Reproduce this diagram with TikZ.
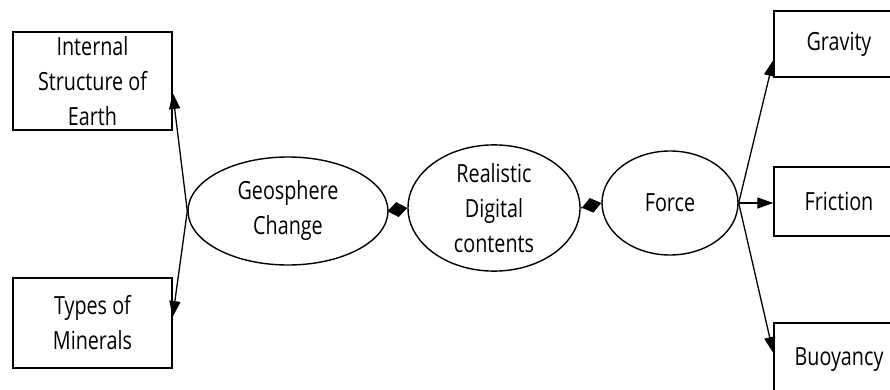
\documentclass[tikz,border=0pt]{standalone}
\usepackage{fontspec}
\setmainfont[FakeStretch=0.79]{Open Sans}
\usetikzlibrary{shapes.geometric,arrows.meta}
\begin{document}
\begin{tikzpicture}[x=1pt,y=-1pt,
  every node/.style={font=\fontsize{25}{35}\selectfont, align=center, inner sep=0pt},
  topicbox/.style={draw, line width=1.4pt},
  hub/.style={draw, ellipse, line width=1.4pt},
  link/.style={line width=1.3pt, -{Triangle[length=16pt,width=11pt]}},
  joint/.style={line width=1.3pt, -{Diamond[length=20pt,width=15pt]}}]
\useasboundingbox (0,0) rectangle (890,390);
\clip (0,0) rectangle (890,390);

% left topic boxes
\node[topicbox, minimum width=159pt, minimum height=98pt] (ise) at (92.5,81) {Internal\\Structure of\\Earth};
\node[topicbox, minimum width=159pt, minimum height=90pt] (tom) at (92.5,323) {Types of\\Minerals};

% central ellipses
\node[hub, minimum width=200pt, minimum height=108pt] (geo) at (288,211) {Geosphere\\Change};
\node[hub, minimum width=172pt, minimum height=114pt] (rdc) at (494,208) {Realistic\\Digital\\contents};
\node[hub, minimum width=136pt, minimum height=104pt] (frc) at (670,203) {Force};

% right topic boxes
\node[topicbox, minimum width=130pt, minimum height=66pt] (grv) at (839,44) {Gravity};
\node[topicbox, minimum width=130pt, minimum height=69pt] (fri) at (839,201.5) {Friction};
\node[topicbox, minimum width=130pt, minimum height=74pt] (buo) at (839,360) {Buoyancy};

% connectors
\draw[link] (geo.west) -- (ise.east |- 0,93);
\draw[link] (geo.west) -- (tom.east |- 0,317);
\draw[joint] (geo.east) -- (rdc.west);
\draw[joint] (rdc.east) -- (frc.west);
\draw[link] (frc.east) -- (grv.west |- 0,60);
\draw[link] (frc.east) -- (fri.west |- frc.east);
\draw[link] (frc.east) -- (buo.west |- 0,353);
\end{tikzpicture}
\end{document}
